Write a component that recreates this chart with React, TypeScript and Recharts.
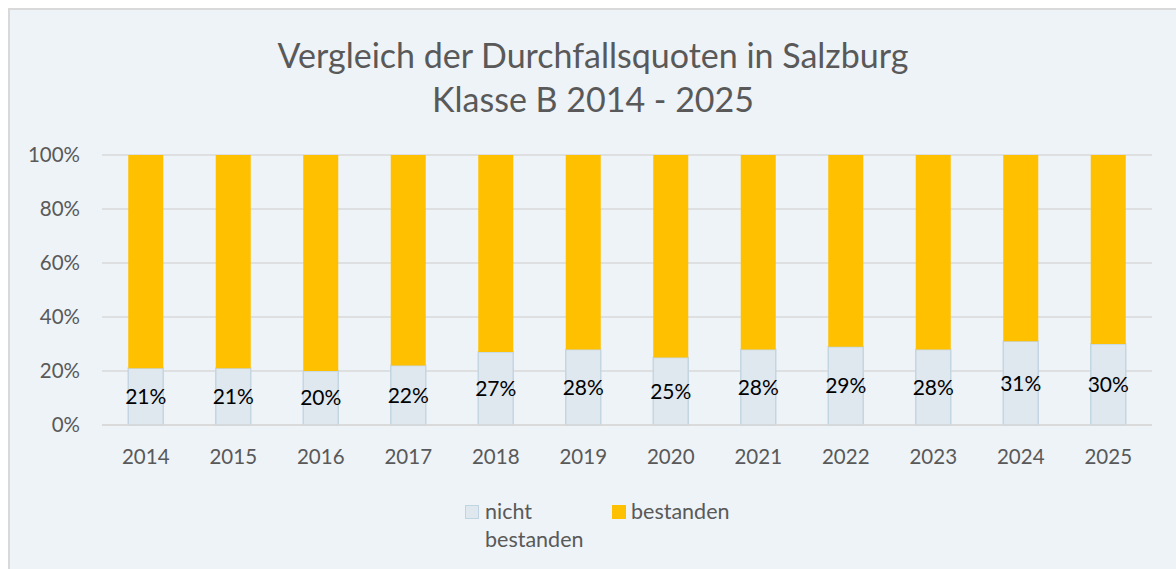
import React from 'react';
import { BarChart, Bar, XAxis, YAxis, CartesianGrid, LabelList } from 'recharts';

const years = ['2014', '2015', '2016', '2017', '2018', '2019', '2020', '2021', '2022', '2023', '2024', '2025'];
const nichtBestanden = [21, 21, 20, 22, 27, 28, 25, 28, 29, 28, 31, 30];
const bestanden = [79, 79, 80, 78, 73, 72, 75, 72, 71, 72, 69, 70];
const yTicks = [0, 20, 40, 60, 80, 100];

const FONT = 'Lato, "Open Sans", sans-serif';
const GREY = '#595959';

const data = years.map((year, i) => ({ year, nicht: nichtBestanden[i], bestanden: bestanden[i] }));

const LegendBox: React.FC = () => (
    <div style={{ position: 'absolute', left: 455, top: 487, fontFamily: FONT, fontSize: 21.5, color: GREY, lineHeight: '28px' }}>
        <div style={{ position: 'absolute', left: 0, top: 8, width: 12, height: 12, background: '#dfe7ef', border: '1.5px solid #bfd3e0' }} />
        <div style={{ position: 'absolute', left: 20, top: 0, width: 110 }}>nicht<br />bestanden</div>
        <div style={{ position: 'absolute', left: 147, top: 8, width: 14, height: 14, background: '#ffc000' }} />
        <div style={{ position: 'absolute', left: 166, top: 0, whiteSpace: 'nowrap' }}>bestanden</div>
    </div>
);

const App: React.FC = () => {
    return (
        <div style={{
            position: 'absolute', left: 8, top: 8, width: 1166, height: 559,
            background: '#eef3f7', borderTop: '2px solid #d9d9d9', borderLeft: '2px solid #d9d9d9',
        }}>
            <div style={{
                position: 'absolute', left: 0, top: 23, width: 1166, textAlign: 'center',
                fontFamily: FONT, fontSize: 34, color: GREY, lineHeight: '44px',
            }}>
                Vergleich der Durchfallsquoten in Salzburg<br />Klasse B 2014 - 2025
            </div>
            <BarChart
                width={1166}
                height={559}
                data={data}
                margin={{ top: 145, right: 24, left: 12, bottom: 114 }}
                barCategoryGap="30%"
            >
                <CartesianGrid vertical={false} stroke="#d9d9d9" strokeWidth={1.5} />
                <XAxis
                    dataKey="year"
                    axisLine={{ stroke: '#d9d9d9', strokeWidth: 1.5 }}
                    tickLine={false}
                    tickSize={0}
                    tickMargin={24}
                    tick={{ fill: GREY, fontSize: 20.5, fontFamily: FONT }}
                />
                <YAxis
                    width={80}
                    domain={[0, 100]}
                    ticks={yTicks}
                    tickFormatter={(v: number) => `${v}%`}
                    axisLine={false}
                    tickLine={false}
                    tickSize={0}
                    tickMargin={22}
                    tick={{ fill: GREY, fontSize: 20.5, fontFamily: FONT }}
                />
                <Bar dataKey="nicht" stackId="a" fill="#dfe7ef" stroke="#c4d6e2" strokeWidth={1.5} isAnimationActive={false}>
                    <LabelList
                        dataKey="nicht"
                        position="center"
                        formatter={(v: number) => `${v}%`}
                        style={{ fill: '#000000', fontSize: 21, fontFamily: FONT }}
                    />
                </Bar>
                <Bar dataKey="bestanden" stackId="a" fill="#ffc000" isAnimationActive={false} />
            </BarChart>
            <LegendBox />
        </div>
    );
};

export default App;
